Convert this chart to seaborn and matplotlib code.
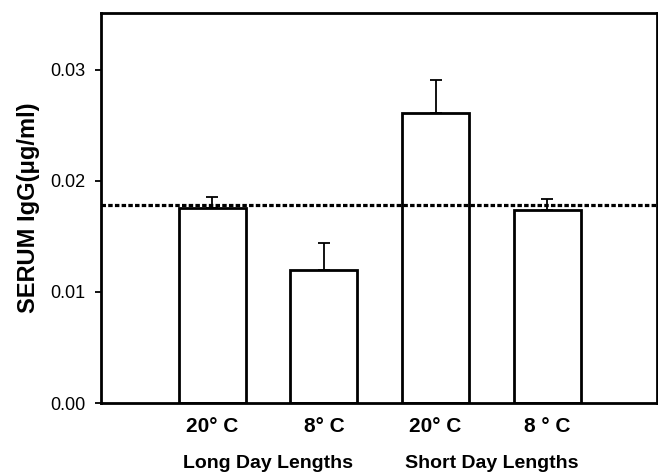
import numpy as np
import pandas as pd
import matplotlib
matplotlib.use('Agg')
import matplotlib.pyplot as plt
import seaborn as sns

# values
bar_ids = ['LD_20', 'LD_8', 'SD_20', 'SD_8']
temp_labels = ['20\u00b0 C', '8\u00b0 C', '20\u00b0 C', '8 \u00b0 C']
group_labels = ['Long Day Lengths', 'Short Day Lengths']
igg_means = [0.01757, 0.01198, 0.02610, 0.01739]
igg_err_up = [0.00099, 0.00241, 0.00294, 0.00099]
reference_level = 0.01778

sns.set_style("ticks")
plt.rcParams['font.family'] = ['Liberation Sans', 'DejaVu Sans']
plt.rcParams['text.color'] = 'black'
plt.rcParams['axes.labelcolor'] = 'black'
plt.rcParams['xtick.color'] = 'black'
plt.rcParams['ytick.color'] = 'black'

df = pd.DataFrame({'bar': bar_ids, 'igg': igg_means})

fig = plt.figure(figsize=(6.58, 4.76), dpi=100)
ax = fig.add_axes([0.153, 0.153, 0.845, 0.82])

sns.barplot(data=df, x='bar', y='igg', order=bar_ids, color='white',
            edgecolor='black', linewidth=2, width=0.6, errorbar=None, ax=ax)

# one-sided (upper) error bars
yerr = [np.zeros(len(igg_err_up)), igg_err_up]
ax.errorbar(np.arange(len(bar_ids)), igg_means, yerr=yerr, fmt='none',
            ecolor='black', elinewidth=1.3, capsize=4.5, capthick=1.3, zorder=3)

ax.axhline(reference_level, color='black', linewidth=2.3, linestyle=(0, (1.4, 0.7)), zorder=4)

ax.set_xlim(-1.0, 3.98)
ax.set_ylim(0, 0.0351)
ax.set_yticks([0.0, 0.01, 0.02, 0.03])
ax.set_yticklabels(['0.00', '0.01', '0.02', '0.03'], fontsize=13)
ax.set_xticks(range(len(bar_ids)))
ax.set_xticklabels(temp_labels, fontsize=15, fontweight='bold')
ax.tick_params(axis='x', length=0, pad=10)
ax.tick_params(axis='y', length=4, width=1.3, direction='out', pad=7)
ax.set_xlabel('')
ax.set_ylabel('SERUM IgG(\u03bcg/ml)', fontsize=17, fontweight='bold', labelpad=7)

for sp in ax.spines.values():
    sp.set_linewidth(2)
    sp.set_color('black')

for i, g in enumerate(group_labels):
    ax.text(2 * i + 0.5, -0.00586, g, ha='center', va='baseline', fontsize=14,
            fontweight='bold', transform=ax.transData, clip_on=False)

plt.savefig('out.png', dpi=100)
plt.close()
